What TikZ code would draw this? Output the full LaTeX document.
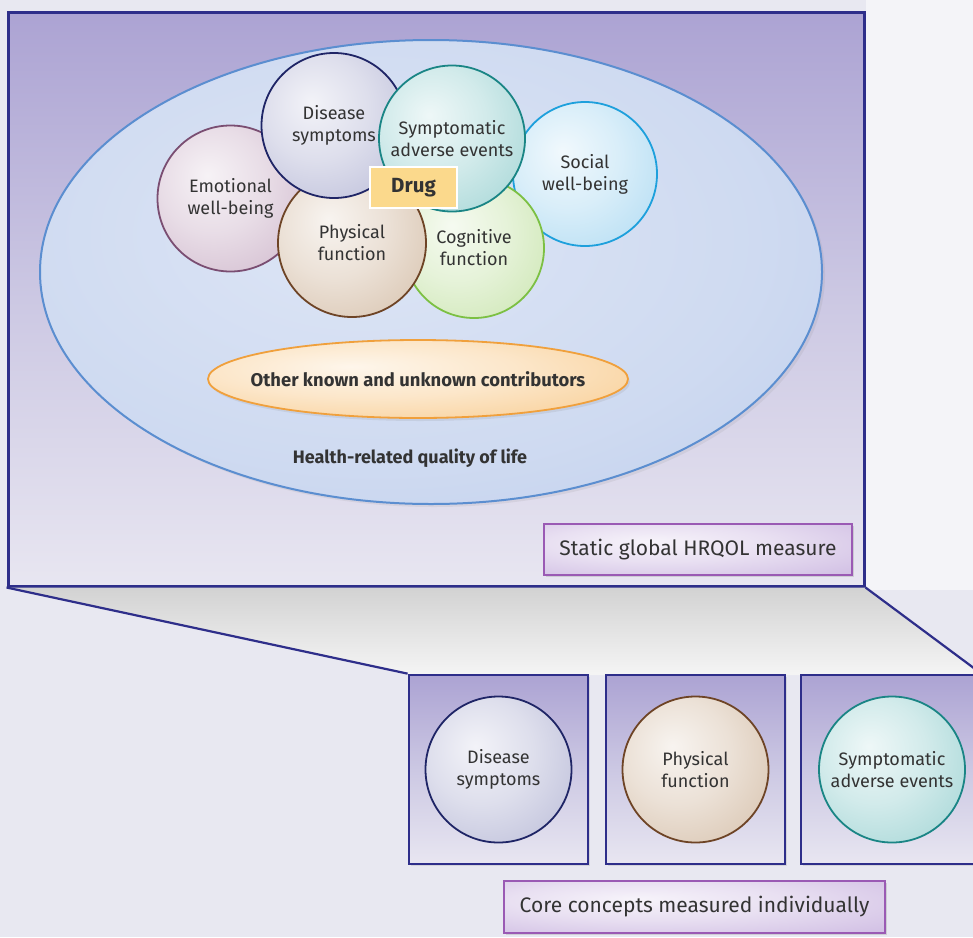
\documentclass[tikz,border=0pt]{standalone}
\usepackage{fontspec}
\setmainfont{Fira Sans}
\usetikzlibrary{shapes.geometric,shadows}
\definecolor{navy}{HTML}{2E2E8A}
\definecolor{txt}{HTML}{333333}
\definecolor{bgc}{HTML}{E8E8F1}
\definecolor{bgr}{HTML}{F4F4F8}
\definecolor{pbtop}{HTML}{ACA3D3}
\definecolor{pbmid}{HTML}{CCC8E3}
\definecolor{pbbot}{HTML}{E8E6F1}
\definecolor{lblb}{HTML}{9A5AB4}
\definecolor{lblt}{HTML}{C7B1DE}
\definecolor{hqb}{HTML}{5B8ED0}
\definecolor{hqt}{RGB}{180,198,233}
\definecolor{orb}{RGB}{240,160,60}
\definecolor{ort}{RGB}{247,194,122}
\definecolor{socb}{RGB}{30,160,220}
\definecolor{soct}{RGB}{160,212,240}
\definecolor{emob}{RGB}{122,78,114}
\definecolor{emot}{RGB}{198,170,194}
\definecolor{cogb}{RGB}{124,192,67}
\definecolor{cogt}{RGB}{192,224,160}
\definecolor{phyb}{RGB}{110,68,38}
\definecolor{phyt}{RGB}{206,180,154}
\definecolor{disb}{RGB}{31,37,102}
\definecolor{dist}{RGB}{172,174,208}
\definecolor{symb}{RGB}{26,133,133}
\definecolor{symt}{RGB}{142,204,204}
\definecolor{drugc}{RGB}{251,217,140}
\colorlet{ctint}{gray}
\pgfdeclareradialshading[ctint]{softball}{\pgfpoint{-8bp}{8bp}}{color(0bp)=(white!85!ctint); color(18bp)=(white!60!ctint); color(50bp)=(ctint); color(80bp)=(ctint)}
\pgfdeclareradialshading[ctint]{flatball}{\pgfpoint{-5bp}{5bp}}{color(0bp)=(white!55!ctint); color(25bp)=(white!35!ctint); color(50bp)=(ctint); color(80bp)=(ctint)}
\begin{document}
\begin{tikzpicture}[x=1pt,y=-1pt,
  fillt/.code={\colorlet{ctint}{#1}},
  circ/.style={circle, draw, line width=1.8pt, minimum size=#1, inner sep=0pt, align=center,
    font=\fontsize{18}{22}\selectfont, text=txt, shading=softball},
  smallbox/.style={rectangle, draw=navy, line width=2.7pt, minimum width=179pt, minimum height=189pt,
    top color=pbtop, bottom color=pbbot, middle color=pbmid, drop shadow={opacity=0.2,shadow xshift=2pt,shadow yshift=-2pt}},
  labelbox/.style={rectangle, draw=lblb, line width=1.5pt, shading=softball, fillt=lblt, text=txt,
    drop shadow={opacity=0.25,shadow xshift=2pt,shadow yshift=-2pt}},
  zoomline/.style={draw=navy, line width=2.2pt}
]
\useasboundingbox (0,0) rectangle (973,937);
\clip (0,0) rectangle (973,937);
% background
\fill[bgc] (0,0) rectangle (973,937);
\fill[bgr] (866,0) rectangle (973,590);

% big box
\node[rectangle, draw=navy, line width=3pt, minimum width=856pt, minimum height=574pt,
  top color=pbtop, bottom color=pbbot, middle color=pbmid] (big) at (436,299) {};

% zoom-out trapezoid + small boxes
\coordinate (b1nw) at (409,675);
\coordinate (b3ne) at (980,675);
\shade[top color=gray!35!white, bottom color=gray!8!white] (big.south west) -- (b1nw) -- (b3ne) -- (big.south east) -- cycle;
\node[smallbox] (sb1) at (498.5,769.5) {};
\node[smallbox] (sb2) at (695.5,769.5) {};
\node[smallbox] (sb3) at (890.5,769.5) {};
\draw[zoomline] (big.south west) -- (sb1.north west);
\draw[zoomline] (big.south east) -- (sb3.north east);

% HRQOL ellipse
\node[ellipse, draw=hqb, line width=2pt, minimum width=782pt, minimum height=464pt,
  shading=flatball, fillt=hqt, drop shadow={opacity=0.12,shadow xshift=3pt,shadow yshift=-3pt}] (hrqol) at (431,272) {};
\node[text=txt, font=\fontsize{18}{20}\bfseries\selectfont] (hrqoltxt) at (410,458) {Health-related quality of life};

% other contributors
\node[ellipse, draw=orb, line width=1.8pt, minimum width=420pt, minimum height=78pt, inner sep=0pt,
  shading=softball, fillt=ort,
  drop shadow={opacity=0.15,shadow xshift=2pt,shadow yshift=-3pt}] (other) at (418,379) {};
\node[text=txt, font=\fontsize{18.4}{20}\bfseries\selectfont] (othertxt) at (other.center) {Other known and unknown contributors};

% circles
\node[circ=144pt, draw=socb, fillt=soct] (social) at (585,174) {Social\\well-being};
\node[circ=146pt, draw=emob, fillt=emot] (emot) at (230.5,198.5) {Emotional\\well-being};
\node[circ=140pt, draw=cogb, fillt=cogt] (cogn) at (474,248) {Cognitive\\function};
\node[circ=148pt, draw=phyb, fillt=phyt] (phys) at (352,243) {Physical\\function};
\node[circ=145pt, draw=disb, fillt=dist] (dis) at (334,125.5) {Disease\\symptoms};
\node[circ=146pt, draw=symb, fillt=symt] (sympt) at (452,138.5) {Symptomatic\\adverse events};
\node[rectangle, fill=drugc, draw=white, line width=2.5pt, minimum width=87pt, minimum height=41pt,
  text=txt, font=\fontsize{20.5}{22}\bfseries\selectfont] (drug) at (413.5,187.5) {Drug};

% static label
\node[labelbox, minimum width=308pt, minimum height=51pt, font=\fontsize{21}{24}\selectfont] (static) at (698,549.5) {Static global HRQOL measure};

% small circles
\node[circ=146pt, draw=disb, fillt=dist] (dis2) at (sb1) {Disease\\symptoms};
\node[circ=146pt, draw=phyb, fillt=phyt] (phys2) at (sb2) {Physical\\function};
\node[circ=146pt, draw=symb, fillt=symt] (sympt2) at ([xshift=1.5pt]sb3.center) {Symptomatic\\adverse events};

% core label
\node[labelbox, minimum width=381pt, minimum height=52pt, font=\fontsize{21}{24}\selectfont] (core) at (694.5,907) {Core concepts measured individually};
\end{tikzpicture}
\end{document}
